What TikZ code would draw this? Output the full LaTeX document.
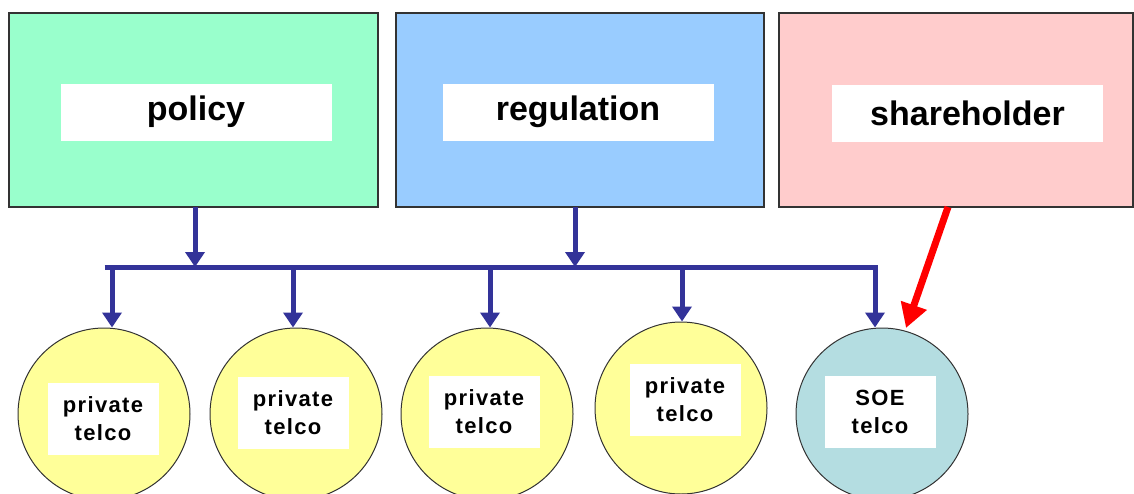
\documentclass[tikz,border=0pt]{standalone}
\usepackage{fontspec}
\setmainfont{Liberation Sans}
\usetikzlibrary{arrows.meta}
\definecolor{mint}{HTML}{99FFCC}
\definecolor{sky}{HTML}{99CCFF}
\definecolor{rose}{HTML}{FFCCCC}
\definecolor{lemon}{HTML}{FFFF99}
\definecolor{soe}{HTML}{B4DDE1}
\definecolor{navy}{HTML}{333399}
\definecolor{edge}{HTML}{333333}
\tikzset{
  bigbox/.style={draw=edge, line width=1.2pt, inner sep=0pt, minimum height=194pt},
  biglabel/.style={fill=white, inner sep=0pt, minimum height=57pt, minimum width=271pt,
    font=\fontsize{34}{36}\selectfont\bfseries},
  telco/.style={circle, draw=edge, line width=1pt, minimum size=172pt, inner sep=0pt},
  smalllabel/.style={fill=white, inner sep=0pt, minimum width=111pt, minimum height=72pt,
    align=center, font=\fontsize{22}{28}\selectfont\bfseries\addfontfeature{LetterSpace=6}},
  arr/.style={draw=navy, line width=5pt, -{Triangle[width=19pt,length=15pt]}},
  bus/.style={draw=navy, line width=5pt},
  redarr/.style={draw=red, line width=7pt, -{Triangle[width=26pt,length=24pt]}}
}
\begin{document}
\begin{tikzpicture}[x=1pt,y=-1pt]
\useasboundingbox (0,0) rectangle (1134,493);
\clip (0,0) rectangle (1134,493);
% top boxes
\node[bigbox, fill=mint, minimum width=369pt] (policy) at (193.5,110) {};
\node[bigbox, fill=sky, minimum width=368pt] (regulation) at (580,110) {};
\node[bigbox, fill=rose, minimum width=354pt] (shareholder) at (956,110) {};
\node[biglabel] (policyL) at (196,112) {policy};
\node[biglabel] (regulationL) at (578,112) {regulation};
\node[biglabel] (shareholderL) at (967.5,113) {shareholder};
% circles
\node[telco, fill=lemon] (c1) at (104,414) {};
\node[telco, fill=lemon] (c2) at (296,414) {};
\node[telco, fill=lemon] (c3) at (487,414) {};
\node[telco, fill=lemon] (c4) at (681,408) {};
\node[telco, fill=soe] (c5) at (882,414) {};
\node[smalllabel] (c1L) at (103,419) {private\\telco};
\node[smalllabel] (c2L) at (293,413) {private\\telco};
\node[smalllabel] (c3L) at (484,412) {private\\telco};
\node[smalllabel] (c4L) at (685,400) {private\\telco};
\node[smalllabel] (c5L) at (880,412) {SOE\\telco};
% bus
\coordinate (busL) at (107,267);
\coordinate (busR) at (878,267);
\coordinate (p1) at (195,207);
\coordinate (p2) at (575,207);
\coordinate (b1) at (112,267);
\coordinate (b2) at (293,267);
\coordinate (b3) at (490,267);
\coordinate (b4) at (682,267);
\coordinate (b5) at (875,267);
\draw[bus] ([xshift=-2.5pt]busL) -- (busR);
\draw[arr] (p1) -- (p1 |- busL);
\draw[arr] (p2) -- (p2 |- busL);
\draw[arr] ([yshift=-2.5pt]b1) -- (b1 |- c1.north);
\draw[arr] ([yshift=-2.5pt]b2) -- (b2 |- c2.north);
\draw[arr] ([yshift=-2.5pt]b3) -- (b3 |- c3.north);
\draw[arr] ([yshift=-2.5pt]b4) -- (b4 |- c4.north);
\draw[arr] ([yshift=-2.5pt]b5) -- (b5 |- c5.north);
% red arrow
\coordinate (s1) at (948,207);
\coordinate (s2) at (906,328);
\draw[redarr] (s1) -- (s2);
\end{tikzpicture}
\end{document}
